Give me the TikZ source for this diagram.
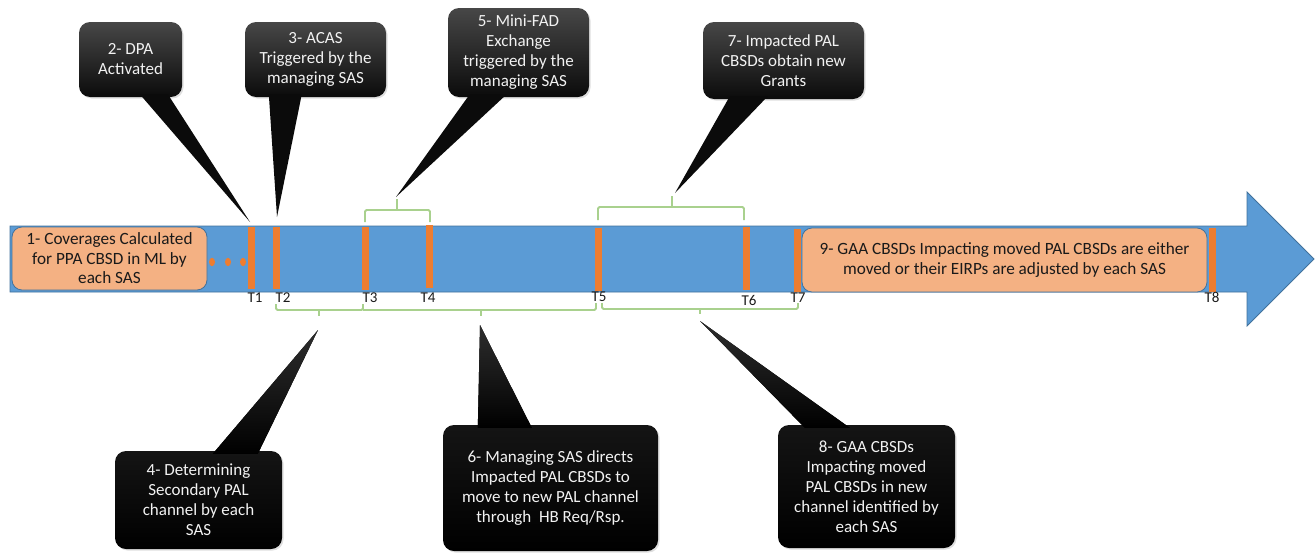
\documentclass[tikz,border=0pt]{standalone}
\usepackage{fontspec}
\setmainfont{Carlito}
\usetikzlibrary{shadows,calc}

\definecolor{arrowblue}{HTML}{5B9BD5}
\definecolor{edgeblue}{HTML}{41719C}
\definecolor{barorange}{HTML}{ED7D31}
\definecolor{boxorange}{HTML}{F4B183}
\definecolor{bracegreen}{HTML}{A9D18E}
\definecolor{calltop}{HTML}{474747}
\definecolor{callbot}{HTML}{0B0B0B}
\definecolor{tailtop}{HTML}{2E2E2E}
\definecolor{labelgray}{HTML}{1A1A1A}

\tikzset{
  calltext/.style={text=white!95!black, align=center, font=\fontsize{17}{20}\selectfont, inner sep=0pt},
  upcallout/.style={calltext, rounded corners=11pt, top color=calltop, bottom color=callbot,
    drop shadow={opacity=0.25, shadow xshift=1.5pt, shadow yshift=-1.5pt}},
  downcallout/.style={calltext, rounded corners=11pt, top color=black!92, bottom color=black,
    drop shadow={opacity=0.25, shadow xshift=1.5pt, shadow yshift=-1.5pt}},
  uptail/.style={fill=callbot},
  downtail/.style={top color=tailtop, bottom color=black},
  stepbox/.style={rounded corners=10pt, fill=boxorange, draw=edgeblue, line width=0.8pt,
    align=center, font=\fontsize{17.2}{19.5}\selectfont, text=labelgray, inner sep=0pt},
  tbar/.style={fill=barorange, draw=none, minimum width=7pt, inner sep=0pt},
  tlabel/.style={font=\fontsize{15}{17}\selectfont, text=labelgray, inner sep=0pt},
  bracket/.style={draw=bracegreen, line width=1.8pt, rounded corners=1.5pt},
}

\begin{document}
\begin{tikzpicture}[x=1pt,y=-1pt]
\useasboundingbox (0,0) rectangle (1316,554);

% timeline arrow
\filldraw[fill=arrowblue, draw=edgeblue, line width=0.8pt]
  (10,226) -- (1247,226) -- (1247,192) -- (1314,259) -- (1247,326)
  -- (1247,292) -- (10,292) -- cycle;

% step boxes on the timeline
\node[stepbox, minimum width=195pt, minimum height=63pt] (s1) at (109.5,258.5)
  {1- Coverages Calculated\\for PPA CBSD in ML by\\each SAS};
\node[stepbox, minimum width=405pt, minimum height=64pt] (s9) at (1004.5,260)
  {9- GAA CBSDs Impacting moved PAL CBSDs are either\\moved or their EIRPs are adjusted by each SAS};

% dots
\foreach \dx in {212,228,243}
  \fill[barorange] (\dx,262) ellipse [x radius=3, y radius=4.2];

% time markers
\node[tbar, minimum height=62pt] (t1) at (251.5,258) {};
\node[tbar, minimum height=62pt] (t2) at (276,258) {};
\node[tbar, minimum height=63pt] (t3) at (365,258.5) {};
\node[tbar, minimum height=63pt] (t4) at (429.5,256.5) {};
\node[tbar, minimum height=63pt] (t5) at (598.5,259) {};
\node[tbar, minimum height=63pt] (t6) at (746.5,258.5) {};
\node[tbar, minimum height=63pt] (t7) at (797.5,260.5) {};
\node[tbar, minimum height=64pt] (t8) at (1212.5,260) {};

\node[tlabel] (l1) at (255,298) {T1};
\node[tlabel] (l2) at (283,298) {T2};
\node[tlabel] (l3) at (370,298) {T3};
\node[tlabel] (l4) at (428,298) {T4};
\node[tlabel] (l5) at (599,297) {T5};
\node[tlabel] (l6) at (749,300) {T6};
\node[tlabel] (l7) at (798,298) {T7};
\node[tlabel] (l8) at (1212,297) {T8};

% brackets above the timeline
\draw[bracket] (365,222) -- (365,210) -- (430,210) -- (430,222);
\draw[bracket] (397,210) -- (397,199);
\draw[bracket] (598,220) -- (598,207) -- (744,207) -- (744,220);
\draw[bracket] (672,207) -- (672,196);

% brackets below the timeline
\draw[bracket] (276,304) -- (276,310) -- (363,310) -- (363,304);
\draw[bracket] (319,310) -- (319,316);
\draw[bracket] (363,310) -- (596,310) -- (596,303);
\draw[bracket] (481,310) -- (481,316);
\draw[bracket] (602,303) -- (602,309) -- (798,309) -- (798,303);
\draw[bracket] (700,309) -- (700,314);

% pointer tips
\coordinate (p2) at (250,222);
\coordinate (p3) at (277,217);
\coordinate (p5) at (396,197);
\coordinate (p7) at (675,193);
\coordinate (p4) at (318,330);
\coordinate (p6) at (480,325);
\coordinate (p8) at (700,321);

% callouts above the timeline
\node[upcallout, minimum width=103pt, minimum height=75pt] (c2) at (130.5,59.5)
  {2- DPA\\Activated};
\node[upcallout, minimum width=141pt, minimum height=75pt] (c3) at (315.5,59.5)
  {3- ACAS\\Triggered by the\\managing SAS};
\node[upcallout, minimum width=141pt, minimum height=89pt] (c5) at (518.5,52.5)
  {5- Mini-FAD\\Exchange\\triggered by the\\managing SAS};
\node[upcallout, minimum width=161pt, minimum height=77pt] (c7) at (783.5,60.5)
  {7- Impacted PAL\\CBSDs obtain new\\Grants};

\fill[uptail] ([xshift=61pt,yshift=3pt]c2.south west) -- (p2) -- ([xshift=89pt,yshift=3pt]c2.south west) -- cycle;
\fill[uptail] ([xshift=24pt,yshift=3pt]c3.south west) -- (p3) -- ([xshift=57pt,yshift=3pt]c3.south west) -- cycle;
\fill[uptail] ([xshift=22pt,yshift=3pt]c5.south west) -- (p5) -- ([xshift=59pt,yshift=3pt]c5.south west) -- cycle;
\fill[uptail] ([xshift=27pt,yshift=3pt]c7.south west) -- (p7) -- ([xshift=65pt,yshift=3pt]c7.south west) -- cycle;

% callouts below the timeline
\node[downcallout, minimum width=167pt, minimum height=98pt] (c4) at (198.5,500)
  {4- Determining\\Secondary PAL\\channel by each\\SAS};
\node[downcallout, minimum width=215pt, minimum height=126pt] (c6) at (550.5,488)
  {6- Managing SAS directs\\Impacted PAL CBSDs to\\move to new PAL channel\\through\ \ HB Req/Rsp.};
\node[downcallout, minimum width=177pt, minimum height=123pt] (c8) at (866.5,486.5)
  {8- GAA CBSDs\\Impacting moved\\PAL CBSDs in new\\channel identified by\\each SAS};

\fill[downtail] ([xshift=98pt,yshift=-3pt]c4.north west) -- (p4) -- ([xshift=143pt,yshift=-3pt]c4.north west) -- cycle;
\fill[downtail] ([xshift=35pt,yshift=-3pt]c6.north west) -- (p6) -- ([xshift=89pt,yshift=-3pt]c6.north west) -- cycle;
\fill[downtail] ([xshift=27pt,yshift=-3pt]c8.north west) -- (p8) -- ([xshift=72pt,yshift=-3pt]c8.north west) -- cycle;

\end{tikzpicture}
\end{document}
